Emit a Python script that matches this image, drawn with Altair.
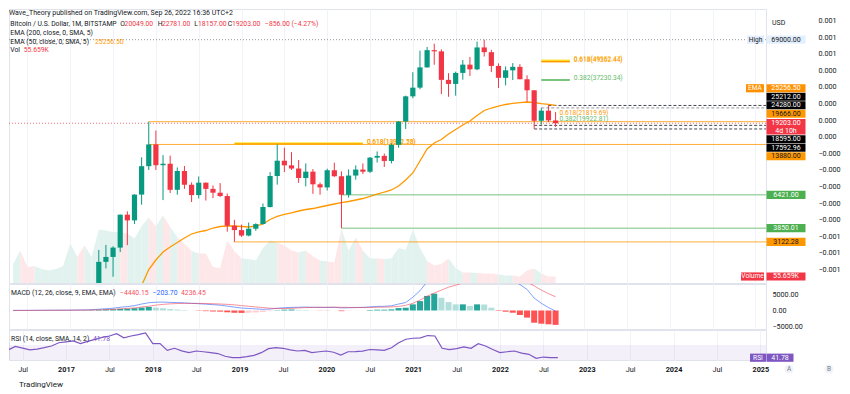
import altair as alt
import pandas as pd

FONT = "Roboto"
TXT = "#131722"
GREEN = "#089981"
RED = "#f23645"
ORANGE = "#ff9800"
GRID = "#f0f3fa"

# ---------------- data: BTC/USD monthly, BITSTAMP ----------------
MONTH_FIRST = "2016-05"
MONTH_LAST = "2022-09"
OPEN = [448, 531, 673, 622, 573, 609, 699, 740,
        964, 970, 1189, 1079, 1348, 2300, 2480, 2860, 4735, 4340, 6440, 9950,
        13880, 10100, 10330, 6930, 9240, 7490, 6390, 7730, 7030, 6630, 6300, 4000,
        3740, 3440, 3820, 4100, 5320, 8560, 10820, 10080, 9600, 8300, 9150, 7540,
        7190, 9350, 8530, 6421, 8620, 9450, 9140, 11340, 11650, 10780, 13800, 19700,
        28990, 33110, 45160, 58800, 57720, 37300, 35040, 41500, 47100, 43820, 61300, 57000,
        46200, 38480, 43170, 45540, 37650, 31800, 19940, 23290, 20049]
HIGH = [550, 780, 704, 625, 628, 718, 755, 975,
        1153, 1200, 1290, 1350, 2760, 2980, 2920, 4745, 4980, 6470, 11400, 19666,
        17180, 11790, 11700, 9760, 9990, 7760, 8500, 7750, 7410, 7680, 6550, 4380,
        4070, 4200, 4150, 5620, 9090, 13880, 13200, 12320, 10950, 10380, 9520, 7750,
        9580, 10500, 9190, 9460, 10070, 10380, 11450, 12470, 12080, 14100, 19890, 29300,
        41950, 58350, 61780, 64900, 59500, 41330, 42300, 50500, 52900, 67000, 69000, 59100,
        48000, 45800, 48200, 47450, 40000, 31950, 24280, 25212, 22781]
LOW = [435, 522, 465, 470, 560, 604, 678, 740,
       752, 915, 885, 1060, 1340, 2080, 1830, 2670, 2970, 4110, 5520, 9380,
       9400, 5920, 6600, 6430, 7030, 5750, 6070, 5880, 6100, 6200, 3650, 3122.28,
       3370, 3400, 3700, 4070, 5300, 7500, 9100, 9400, 7710, 7300, 6520, 6430,
       6860, 8450, 3850.01, 6150, 8100, 8830, 8970, 10520, 9830, 10380, 13220, 17600,
       28130, 32300, 45000, 47000, 30000, 28800, 29300, 37400, 39600, 43300, 53300, 42000,
       32950, 34300, 37200, 37700, 26700, 17592.96, 18780, 19540, 18157]
CLOSE = [531, 673, 622, 573, 609, 699, 740, 964,
         970, 1189, 1079, 1348, 2300, 2480, 2860, 4735, 4340, 6440, 9950, 13880,
         10100, 10330, 6930, 9240, 7490, 6390, 7730, 7030, 6630, 6300, 4000, 3740,
         3440, 3820, 4100, 5320, 8560, 10820, 10080, 9600, 8300, 9150, 7540, 7190,
         9350, 8530, 6421, 8620, 9450, 9140, 11340, 11650, 10780, 13800, 19700, 28990,
         33110, 45160, 58800, 57720, 37300, 35040, 41500, 47100, 43820, 61300, 57000, 46200,
         38480, 43170, 45540, 37650, 31800, 19940, 23290, 20059, 19203]
VOLUME_K = [163, 278, 137, 146, 120, 107, 120, 146,
            338, 223, 321, 223, 458, 449, 437, 437, 424, 381, 488, 561,
            484, 578, 479, 394, 338, 274, 253, 253, 137, 128, 364, 274,
            210, 205, 193, 300, 364, 347, 321, 278, 261, 278, 227, 193,
            184, 175, 467, 278, 389, 278, 210, 210, 205, 210, 300, 282,
            458, 300, 188, 150, 163, 210, 128, 90, 90, 86, 81, 81,
            73, 64, 64, 56, 107, 124, 81, 56, 55.659]
EMA50 = [420, 430, 440, 450, 460, 470, 480, 495,
         515, 535, 555, 580, 620, 680, 760, 910, 1050, 1260, 1600, 2046,
         2366, 2674, 2887, 3094, 3314, 3524, 3634, 3717, 3862, 3952, 3982, 3982,
         3952, 3922, 3982, 4106, 4398, 4607, 4750, 4875, 5010, 5126, 5205, 5326,
         5450, 5577, 5689, 5795, 5930, 6067, 6257, 6480, 6702, 6911, 7346, 8054,
         8970, 10770, 12945, 14190, 14980, 16280, 17450, 18690, 19870, 21620, 23340, 24250,
         25000, 25590, 26060, 26300, 26580, 26380, 25900, 25660, 25256.5]
MACD_K = [0.02, 0.03, 0.04, 0.05, 0.06, 0.08, 0.09, 0.10,
          0.12, 0.15, 0.18, 0.25, 0.40, 0.55, 0.70, 1.00, 1.20, 1.50, 2.00, 2.40,
          2.55, 2.60, 2.50, 2.45, 2.35, 2.20, 2.10, 1.95, 1.80, 1.65, 1.35, 1.05,
          0.76, 0.62, 0.50, 0.35, 0.45, 0.70, 0.85, 0.95, 1.00, 1.05, 1.00, 0.95,
          0.95, 1.00, 0.80, 0.85, 0.90, 0.95, 1.10, 1.25, 1.30, 1.45, 2.00, 2.46,
          4.10, 6.10, 8.90, 10.60, 10.25, 9.80, 9.70, 10.40, 10.80, 12.20, 12.75, 12.16,
          11.05, 10.33, 9.32, 8.01, 6.50, 3.83, 2.23, 0.94, -0.2037]
SIGNAL_K = [0.01, 0.02, 0.03, 0.04, 0.05, 0.06, 0.07, 0.08,
            0.09, 0.10, 0.12, 0.15, 0.20, 0.25, 0.35, 0.50, 0.65, 0.80, 1.10, 1.30,
            1.65, 1.90, 2.05, 2.15, 2.20, 2.20, 2.20, 2.15, 2.10, 2.00, 1.90, 1.75,
            1.50, 1.30, 1.10, 0.90, 0.70, 0.60, 0.60, 0.65, 0.80, 0.90, 0.95, 1.00,
            1.00, 1.00, 1.00, 0.95, 0.95, 0.95, 0.95, 1.00, 1.05, 1.10, 1.25, 1.60,
            2.20, 3.20, 4.40, 5.40, 6.30, 7.20, 7.80, 8.50, 9.40, 10.30, 10.90, 11.30,
            11.20, 10.70, 10.00, 9.40, 8.70, 7.60, 6.30, 5.20, 4.23645]
HIST_K = [0.01, 0.01, 0.01, 0.01, 0.01, 0.02, 0.02, 0.02,
          0.03, 0.05, 0.06, 0.10, 0.20, 0.30, 0.35, 0.50, 0.55, 0.70, 0.90, 1.10,
          0.90, 0.70, 0.45, 0.30, 0.15, 0.00, -0.10, -0.20, -0.30, -0.35, -0.55, -0.70,
          -0.74, -0.68, -0.60, -0.45, -0.20, 0.10, 0.25, 0.30, 0.20, 0.15, 0.05, -0.05,
          -0.05, 0.00, -0.20, -0.10, -0.05, 0.00, 0.15, 0.25, 0.25, 0.35, 0.75, 0.86,
          1.90, 2.90, 4.50, 5.20, 3.95, 2.60, 1.90, 1.90, 1.40, 1.90, 1.85, 0.86,
          -0.15, -0.37, -0.68, -1.39, -2.20, -3.77, -4.07, -4.26, -4.44015]
RSI14 = [59, 67, 63, 59, 61, 64, 67.8, 75,
         77, 79, 73, 78, 82.6, 87, 90, 95, 86, 90, 93, 96.7,
         73, 73, 58, 62.7, 57, 53, 56.7, 55, 53, 51, 45, 42,
         41.8, 44, 47, 53, 62, 64, 62.7, 59, 56.7, 58, 53, 55,
         56.7, 54, 47.8, 55, 55.5, 56.5, 60, 59, 58, 64, 75, 82.7,
         85, 86, 91, 90, 62.7, 59.6, 62, 65.6, 62.7, 73, 67.8, 60,
         53, 55, 56.7, 52, 49.3, 40.4, 43.3, 42, 41.78]
RSI_BAND = [30, 70]

# tick values
X_TICKS = [-6, 0, 6, 12, 18, 24, 30, 36, 42, 48, 54, 60, 66, 72, 78, 84, 90, 96]
PRICE_TICKS = [2450, 4250, 5500, 7500, 10000, 38000, 50000]
AUX_TICKS = [0.00075, 0.00065, 0.00055, 0.00045, 0.00035, 0.00025, 0.00015, 0.00005,
             -0.00005, -0.00015, -0.00025, -0.00035, -0.00045, -0.00055, -0.00065, -0.00075]
MACD_TICKS = [-5000, 0, 5000]
RSI_TICKS = [80]

# horizontal levels
ATH = 69000.00
CURRENT = 19203.00
LEVEL_PRICE = [19666.00, 13880.00, 3122.28, 6421.00, 3850.01, 25212.00, 24280.00, 18595.00, 17592.96]
LEVEL_FROM = ["2017-12", "2017-12", "2018-12", "2020-03", "2020-03", "2022-08", "2022-07", "2022-06", "2022-06"]
LEVEL_KIND = ["orange", "orange", "orange", "green", "green", "dash", "dash2", "dash", "dash"]

FIB_PRICE = [49952.47, 49362.44, 37230.34, 14061.75, 13962.58, 21819.69, 19922.81]
FIB_FROM = ["2022-07", "2022-07", "2022-07", "2018-12", "2018-12", "2022-06", "2022-06"]
FIB_TO = ["2022-11", "2022-11", "2022-11", "2020-06", "2020-06", "2022-09", "2022-09"]
FIB_LABEL = ["0.618(49952.47)", "0.618(49362.44)", "0.382(37230.34)", "0.618(14061.75)",
             "0.618(13962.58)", "0.618(21819.69)", "0.382(19922.81)"]
FIB_KIND = ["y", "o", "g", "y", "o", "o", "g"]
FIB_DRAWN = [True, True, True, True, True, False, False]

# right-hand price tags stacked around the current price
STACK_ABOVE = [(19666.00, "level"), (24280.00, "black"), (25212.00, "black"), (EMA50[-1], "ema")]
STACK_BELOW = [(18595.00, "black"), (17592.96, "black"), (13880.00, "level")]
FIXED_TAGS = [(6421.00, "green"), (3850.01, "green"), (3122.28, "level")]

# ---------------- layout constants ----------------
W = 757
H_MAIN, H_MACD, H_RSI = 274, 45, 30
XMIN, XMAX = -7.88, 96.78
PRICE_DOMAIN = [1664, 110400]
VOL_DOMAIN = [0, 2345]
AUX_DOMAIN = [-0.000831, 0.000819]
MACD_DOMAIN = [-5710, 8180]
RSI_DOMAIN = [36.7, 103.3]
TAG_CX = 777
TAG_W = 39
TAG_H = 8.2
SLOT = 8.5


def month_index(s):
    y, m = s.split("-")
    return (int(y) - 2017) * 12 + int(m) - 1


periods = pd.period_range(MONTH_FIRST, MONTH_LAST, freq="M")
mi = [(p.year - 2017) * 12 + p.month - 1 for p in periods]
for arr in (OPEN, HIGH, LOW, CLOSE, VOLUME_K, EMA50, MACD_K, SIGNAL_K, HIST_K, RSI14):
    assert len(arr) == len(mi)

df = pd.DataFrame({
    "mi": mi, "open": OPEN, "high": HIGH, "low": LOW, "close": CLOSE,
    "ema": EMA50, "macd": [v * 1000 for v in MACD_K], "signal": [v * 1000 for v in SIGNAL_K],
    "hist": [v * 1000 for v in HIST_K], "rsi": RSI14,
})
df["zero"] = 0.0
hcol, prev = [], 0.0
for h in df["hist"]:
    if h >= 0:
        hcol.append("#26a69a" if h >= prev else "#b2dfdb")
    else:
        hcol.append("#ffcdd2" if h > prev else "#ff5252")
    prev = h
df["hcol"] = hcol

rows = []
for i in range(len(mi) - 1):
    d = "up" if CLOSE[i + 1] >= OPEN[i + 1] else "down"
    rows.append({"seg": i, "mi": mi[i], "vol": VOLUME_K[i], "d": d})
    rows.append({"seg": i, "mi": mi[i + 1], "vol": VOLUME_K[i + 1], "d": d})
vseg = pd.DataFrame(rows)

# ---------------- scales and axes ----------------
XS = alt.Scale(domain=[XMIN, XMAX], nice=False, zero=False)
XAX_HIDDEN = alt.Axis(values=X_TICKS, labels=False, ticks=False, domain=False, grid=True,
                      gridColor=GRID, title=None)
XAX_BOTTOM = alt.Axis(values=X_TICKS,
                      labelExpr="datum.value % 12 === 0 ? '' + (2017 + datum.value / 12) : 'Jul'",
                      labelFontWeight={"condition": {"test": "datum.value % 12 === 0", "value": "bold"},
                                       "value": "normal"},
                      ticks=False, domain=False, grid=True, gridColor=GRID, labelPadding=5,
                      labelFontSize=7.3, labelColor=TXT, labelFont=FONT, title=None,
                      labelFlush=False, labelOverlap=False)
PS = alt.Scale(type="log", domain=PRICE_DOMAIN, nice=False)
PAX = alt.Axis(orient="right", values=PRICE_TICKS, format=".2f", title=None, ticks=False,
               domain=False, labelPadding=6, labelFontSize=7.2, labelColor=TXT, labelFont=FONT,
               grid=True, gridColor=GRID)
VS = alt.Scale(domain=VOL_DOMAIN, nice=False)
AS = alt.Scale(domain=AUX_DOMAIN, nice=False, zero=False)
AUX_AX = alt.Axis(orient="right", offset=46, values=AUX_TICKS,
                  labelExpr="datum.value < 0 ? '\u2212' + format(-datum.value, '.3f') : format(datum.value, '.3f')",
                  ticks=False, domain=False, grid=False, title=None, labelPadding=6,
                  labelFontSize=7.2, labelColor=TXT, labelFont=FONT)
MS = alt.Scale(domain=MACD_DOMAIN, nice=False, zero=False)
MAX = alt.Axis(orient="right", values=MACD_TICKS, format=".2f", title=None, ticks=False,
               domain=False, labelPadding=6, labelFontSize=7.2, labelColor=TXT, labelFont=FONT,
               grid=False)
RS = alt.Scale(domain=RSI_DOMAIN, nice=False, zero=False)
RAX = alt.Axis(orient="right", values=RSI_TICKS, format=".2f", title=None, ticks=False,
               domain=False, labelPadding=6, labelFontSize=7.2, labelColor=TXT, labelFont=FONT,
               grid=False)

xq = alt.X("mi:Q", scale=XS, axis=XAX_HIDDEN)


def label(text, x, y, color=TXT, size=7.0, weight="normal", align="left", baseline="middle"):
    return alt.Chart(pd.DataFrame({"t": [text]})).mark_text(
        align=align, baseline=baseline, fontSize=size, fontWeight=weight, font=FONT, color=color
    ).encode(x=alt.value(x), y=alt.value(y), text="t:N")


def tag_rect(value, yscale, cx, w, h, fill, yoff=0.0):
    r = h / w
    path = f"M-1,{-r:.4f}L1,{-r:.4f}L1,{r:.4f}L-1,{r:.4f}Z"
    return alt.Chart(pd.DataFrame({"v": [value]})).mark_point(
        shape=path, size=w * w, filled=True, color=fill, opacity=1, strokeWidth=0, yOffset=yoff
    ).encode(x=alt.value(cx), y=alt.Y("v:Q", scale=yscale, axis=None))


def tag_text(value, yscale, cx, text, color, yoff=0.0, size=7.0):
    return alt.Chart(pd.DataFrame({"v": [value]})).mark_text(
        text=text, color=color, fontSize=size, font=FONT, yOffset=yoff, align="center",
        baseline="middle"
    ).encode(x=alt.value(cx), y=alt.Y("v:Q", scale=yscale, axis=None))


def fmt(v):
    return ("\u2212" if v < 0 else "") + f"{abs(v):.2f}"


TAG_STYLE = {"black": ("#000000", "#ffffff"), "level": (ORANGE, TXT), "ema": ("#ff9100", "#ffffff"),
             "green": ("#4caf50", "#ffffff")}

# ---------------- main panel ----------------
candle_color = alt.condition("datum.close >= datum.open", alt.value(GREEN), alt.value(RED))
vol_area = alt.Chart(vseg).mark_area(clip=True, interpolate="linear").encode(
    x=xq, y=alt.Y("vol:Q", scale=VS, axis=None, stack=None), detail="seg:N",
    color=alt.Color("d:N", scale=alt.Scale(domain=["up", "down"], range=["#e1f2ef", "#fde7e9"]),
                    legend=None))
vol_layers = [vol_area,
              tag_rect(VOLUME_K[-1], VS, 743.5, 23, TAG_H, RED),
              tag_text(VOLUME_K[-1], VS, 743.5, "Volume", "#ffffff", size=6.6),
              tag_rect(VOLUME_K[-1], VS, TAG_CX, TAG_W, TAG_H, RED),
              tag_text(VOLUME_K[-1], VS, TAG_CX, f"{VOLUME_K[-1]:.3f}K", "#ffffff")]
vol_group = alt.layer(*vol_layers)

price_layers = []
lv = pd.DataFrame({"price": LEVEL_PRICE, "mi": [month_index(s) for s in LEVEL_FROM], "kind": LEVEL_KIND})
LEVEL_STYLE = {"orange": dict(color=ORANGE, strokeWidth=1, opacity=0.8),
               "green": dict(color="#a5d6a7", strokeWidth=1.6),
               "dash": dict(color="#434651", strokeWidth=1, strokeDash=[3, 2]),
               "dash2": dict(color="#9598a1", strokeWidth=1, strokeDash=[3, 2])}
for k, st in LEVEL_STYLE.items():
    price_layers.append(alt.Chart(lv[lv.kind == k]).mark_rule(clip=True, **st).encode(
        x=xq, x2=alt.value(W), y=alt.Y("price:Q", scale=PS, axis=PAX)))

price_layers.append(alt.Chart(pd.DataFrame({"price": [ATH]})).mark_rule(
    color="#9598a1", strokeDash=[1, 2], strokeWidth=1).encode(y=alt.Y("price:Q", scale=PS, axis=PAX)))
price_layers.append(alt.Chart(pd.DataFrame({"price": [CURRENT]})).mark_rule(
    color=RED, strokeDash=[1, 2], strokeWidth=1, opacity=0.7).encode(y=alt.Y("price:Q", scale=PS, axis=PAX)))

fib = pd.DataFrame({"price": FIB_PRICE, "x0": [month_index(s) for s in FIB_FROM],
                    "x1": [month_index(s) for s in FIB_TO], "label": FIB_LABEL, "kind": FIB_KIND,
                    "drawn": FIB_DRAWN})
FIB_LINE = {"y": dict(color="#ffeb3b", strokeWidth=2.6), "o": dict(color=ORANGE, strokeWidth=1.6),
            "g": dict(color="#4caf50", strokeWidth=1.5)}
FIB_TEXT = {"y": "#fbc02d", "o": "#ff9800", "g": "#66bb6a"}
for k in ["y", "o", "g"]:
    sub = fib[(fib.kind == k) & fib.drawn]
    price_layers.append(alt.Chart(sub).mark_rule(clip=True, **FIB_LINE[k]).encode(
        x=alt.X("x0:Q", scale=XS, axis=XAX_HIDDEN), x2="x1:Q", y=alt.Y("price:Q", scale=PS, axis=PAX)))
for k in ["y", "o", "g"]:
    sub = fib[fib.kind == k]
    price_layers.append(alt.Chart(sub).mark_text(
        align="left", baseline="bottom", dx=4, dy=1, fontSize=6.6, font=FONT, color=FIB_TEXT[k]
    ).encode(x=alt.X("x1:Q", scale=XS, axis=XAX_HIDDEN), y=alt.Y("price:Q", scale=PS, axis=PAX),
             text="label:N"))

price_layers.append(alt.Chart(df).mark_line(color="#ff9800", strokeWidth=1.3, clip=True).encode(
    x=xq, y=alt.Y("ema:Q", scale=PS, axis=PAX)))
price_layers.append(alt.Chart(df).mark_rule(strokeWidth=1, clip=True).encode(
    x=xq, y=alt.Y("low:Q", scale=PS, axis=PAX), y2="high:Q", color=candle_color))
price_layers.append(alt.Chart(df).mark_bar(size=5.2, clip=True).encode(
    x=xq, y=alt.Y("open:Q", scale=PS, axis=PAX), y2="close:Q", color=candle_color))

# price tags
price_layers += [tag_rect(ATH, PS, 746.5, 17, TAG_H, "#e3effd"),
                 tag_text(ATH, PS, 746.5, "High", TXT, size=6.6),
                 tag_rect(ATH, PS, TAG_CX, TAG_W, TAG_H, "#e3effd"),
                 tag_text(ATH, PS, TAG_CX, f"{ATH:.2f}", TXT)]
for v, kind in FIXED_TAGS:
    fill, tc = TAG_STYLE[kind]
    price_layers += [tag_rect(v, PS, TAG_CX, TAG_W, TAG_H, fill), tag_text(v, PS, TAG_CX, f"{v:.2f}", tc)]
for k, (v, kind) in enumerate(STACK_ABOVE):
    fill, tc = TAG_STYLE[kind]
    off = -(k + 1) * SLOT - 1
    price_layers += [tag_rect(CURRENT, PS, TAG_CX, TAG_W, TAG_H, fill, off),
                     tag_text(CURRENT, PS, TAG_CX, f"{v:.2f}", tc, off)]
    if kind == "ema":
        price_layers += [tag_rect(CURRENT, PS, 746, 18, TAG_H, fill, off),
                         tag_text(CURRENT, PS, 746, "EMA", tc, off, size=6.6)]
for k, (v, kind) in enumerate(STACK_BELOW):
    fill, tc = TAG_STYLE[kind]
    off = (k + 2) * SLOT - 1
    price_layers += [tag_rect(CURRENT, PS, TAG_CX, TAG_W, TAG_H, fill, off),
                     tag_text(CURRENT, PS, TAG_CX, f"{v:.2f}", tc, off)]
price_layers += [tag_rect(CURRENT, PS, TAG_CX, TAG_W, 2 * SLOT - 1.4, RED, 3.5),
                 tag_text(CURRENT, PS, TAG_CX, f"{CURRENT:.2f}", "#ffffff", 0),
                 tag_text(CURRENT, PS, TAG_CX, "4d 10h", "#ffffff", 8)]

# legend texts
chg = CLOSE[-1] - CLOSE[-2]
pct = chg / CLOSE[-2] * 100
price_layers += [
    label("Wave_Theory published on TradingView.com, Sep 26, 2022 16:36 UTC+2", 0, 0, size=7.0,
          baseline="top"),
    label("Bitcoin / U.S. Dollar, 1M, BITSTAMP", 1.3, 14.7, size=6.8),
    label("O", 111.3, 14.7, size=6.8), label(f"{OPEN[-1]:.2f}", 115.6, 14.7, RED, 6.8),
    label("H", 148.7, 14.7, size=6.8), label(f"{HIGH[-1]:.2f}", 152.9, 14.7, RED, 6.8),
    label("L", 185.3, 14.7, size=6.8), label(f"{LOW[-1]:.2f}", 189.0, 14.7, RED, 6.8),
    label("C", 218.7, 14.7, size=6.8), label(f"{CLOSE[-1]:.2f}", 222.9, 14.7, RED, 6.8),
    label(f"{fmt(chg)} ({fmt(pct)}%)", 256, 14.7, RED, 6.8),
    label("EMA (200, close, 0, SMA, 5)", 1.3, 24.3, size=6.8),
    label("EMA (50, close, 0, SMA, 5)", 1.3, 32.7, size=6.8),
    label(f"{EMA50[-1]:.2f}", 86, 32.7, ORANGE, 6.8),
    label("Vol", 1.3, 41, size=6.8),
    label(f"{VOLUME_K[-1]:.3f}K", 14.7, 41, RED, 6.8),
    label("USD", 763, 13.5, size=7.0),
]
price_group = alt.layer(*price_layers)

aux_layer = alt.Chart(pd.DataFrame({"a": [0.0]})).mark_point(opacity=0).encode(
    y=alt.Y("a:Q", scale=AS, axis=AUX_AX))

main = alt.layer(vol_group, price_group, aux_layer).resolve_scale(y="independent").properties(
    width=W, height=H_MAIN)

# ---------------- MACD panel ----------------
macd_layers = [
    alt.Chart(df).mark_bar(size=6, clip=True).encode(
        x=xq, y=alt.Y("hist:Q", scale=MS, axis=MAX), y2="zero:Q", color=alt.Color("hcol:N", scale=None)),
    alt.Chart(df).mark_line(color="#2962ff", strokeWidth=1, opacity=0.6, clip=True).encode(
        x=xq, y=alt.Y("macd:Q", scale=MS, axis=MAX)),
    alt.Chart(df).mark_line(color="#f23645", strokeWidth=1, opacity=0.55, clip=True).encode(
        x=xq, y=alt.Y("signal:Q", scale=MS, axis=MAX)),
    label("MACD (12, 26, close, 9, EMA, EMA)", 2, 8.5, size=6.8),
    label(fmt(df["hist"].iloc[-1]), 111, 8.5, "#f7525f", 6.8),
    label(fmt(df["macd"].iloc[-1]), 143.7, 8.5, "#2962ff", 6.8),
    label(fmt(df["signal"].iloc[-1]), 172, 8.5, "#f7525f", 6.8),
]
macd = alt.layer(*macd_layers).properties(width=W, height=H_MACD)

# ---------------- RSI panel ----------------
rsi_layers = [
    alt.Chart(pd.DataFrame({"lo": [RSI_BAND[0]], "hi": [RSI_BAND[1]]})).mark_rect(
        color="#7e57c2", opacity=0.09, clip=True).encode(
        x=alt.value(0), x2=alt.value(W), y=alt.Y("hi:Q", scale=RS, axis=RAX), y2="lo:Q"),
    alt.Chart(df).mark_line(color="#7e57c2", strokeWidth=1.2, clip=True).encode(
        x=alt.X("mi:Q", scale=XS, axis=XAX_BOTTOM), y=alt.Y("rsi:Q", scale=RS, axis=RAX)),
    label("RSI (14, close, SMA, 14, 2)", 2, 8.7, size=6.8),
    label(f"{RSI14[-1]:.2f}", 84, 8.7, "#7e57c2", 6.8),
    tag_rect(RSI14[-1], RS, 749, 16, TAG_H, "#7e57c2"),
    tag_text(RSI14[-1], RS, 749, "RSI", "#ffffff", size=6.6),
    tag_rect(RSI14[-1], RS, 771, 27, TAG_H, "#7e57c2"),
    tag_text(RSI14[-1], RS, 771, f"{RSI14[-1]:.2f}", "#ffffff"),
    alt.Chart(pd.DataFrame({"t": ["A", "B"], "x": [780, 820]})).mark_point(
        shape="circle", filled=True, color="#f0f3fa", size=80, opacity=1).encode(
        x=alt.X("x:Q", scale=None), y=alt.value(39)),
    label("A", 780, 39, "#787b86", 6.5, align="center"),
    label("B", 820, 39, "#787b86", 6.5, align="center"),
    label("TradingView", 10, 55, TXT, 8.0),
]
rsi = alt.layer(*rsi_layers).properties(width=W, height=H_RSI)

chart = alt.vconcat(main, macd, rsi, spacing=1, bounds="flush").properties(
    padding=0, background="white"
).configure_view(stroke="#e0e3eb", strokeWidth=1)

chart.save("out.html", embed_options={"renderer": "svg", "actions": False})
